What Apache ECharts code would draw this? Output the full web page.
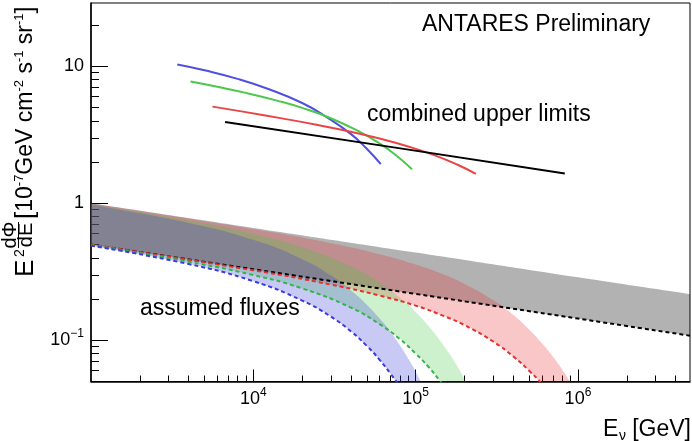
<!DOCTYPE html>
<html>
<head>
<meta charset="utf-8">
<script src="https://cdn.jsdelivr.net/npm/echarts@6/dist/echarts.min.js"></script>
<style>
  html, body { margin: 0; padding: 0; background: #fff; }
  #chart { width: 692px; height: 441px; }
</style>
</head>
<body>
<div id="chart"></div>
<script>
// E in GeV, E^2 dPhi/dE in 1e-7 GeV cm^-2 s^-1 sr^-1

// combined upper limits
const ulBlueE = [3400, 5000, 8000, 12500, 20000, 28000, 40000, 50000, 61000];
const ulBlueF = [10.3, 9.35, 8.1, 6.8, 5.4, 4.3, 3.2, 2.5, 1.93];
const ulGreenE = [4100, 6000, 9000, 14000, 20000, 30000, 45000, 60000, 75000, 95000];
const ulGreenF = [7.74, 7.09, 6.40, 5.62, 4.97, 4.18, 3.34, 2.73, 2.26, 1.77];
const ulRedE = [5600, 9000, 15000, 25000, 40000, 60000, 90000, 130000, 180000, 235000];
const ulRedF = [5.08, 4.63, 4.17, 3.73, 3.33, 2.97, 2.60, 2.25, 1.92, 1.64];
const ulBlackE = [6700, 75000, 830000];
const ulBlackF = [3.93, 2.55, 1.65];

// assumed flux bands (upper edge / lower dashed edge)
const grayE = [1000, 10000, 100000, 1000000, 4900000];
const grayHi = [1.0, 0.661, 0.437, 0.288, 0.217];
const grayLo = [0.5, 0.330, 0.218, 0.144, 0.108];

const redE = [1000, 10000, 30000, 60000, 100000, 150000, 200000, 300000, 400000, 500000, 600000, 700000, 800000, 900000, 1000000, 1200000];
const redHi = [1.0, 0.648, 0.511, 0.425, 0.357, 0.301, 0.258, 0.197, 0.153, 0.120, 0.095, 0.076, 0.061, 0.049, 0.039, 0.025];
const redLo = [0.5, 0.324, 0.255, 0.212, 0.179, 0.150, 0.129, 0.098, 0.076, 0.060, 0.048, 0.038, 0.030, 0.024, 0.020, 0.013];

const greenE = [1000, 4000, 10000, 20000, 40000, 60000, 80000, 100000, 120000, 140000, 160000, 180000, 200000, 250000];
const greenHi = [0.99, 0.749, 0.598, 0.478, 0.345, 0.263, 0.204, 0.161, 0.127, 0.101, 0.081, 0.065, 0.052, 0.030];
const greenLo = [0.495, 0.374, 0.299, 0.239, 0.173, 0.131, 0.102, 0.080, 0.064, 0.051, 0.041, 0.032, 0.026, 0.015];

const blueE = [1000, 4000, 10000, 20000, 30000, 40000, 50000, 60000, 70000, 80000, 90000, 100000, 120000, 140000];
const blueHi = [0.98, 0.719, 0.541, 0.391, 0.298, 0.231, 0.182, 0.144, 0.115, 0.092, 0.0735, 0.059, 0.038, 0.025];
const blueLo = [0.49, 0.360, 0.270, 0.195, 0.149, 0.116, 0.091, 0.072, 0.057, 0.046, 0.037, 0.030, 0.019, 0.0125];

// axis ranges and decades with labels
const X_MIN = 1000, X_MAX = 4.9e6;
const Y_MIN = 0.05, Y_MAX = 29;
const X_DECADES = [4, 5, 6];
const Y_DECADES = [-1, 0, 1];

const FONT = '"Liberation Sans", Arial, Helvetica, sans-serif';
const lg = Math.log10;

function toXY(es, fs) {
    return es.map((e, i) => [lg(e), lg(fs[i])]);
}
function minorTicks(lo, hi) {
    const out = [];
    for (let n = Math.floor(lo) - 1; n <= Math.ceil(hi); n++) {
        for (let k = 2; k <= 9; k++) {
            const v = n + lg(k);
            if (v > lo && v < hi) out.push(v);
        }
    }
    return out;
}
function decadeLabel(v) {
    const n = Math.round(v);
    if (n === 0) return '1';
    if (n === 1) return '10';
    return '10{sup|' + (n < 0 ? '\u2212' + (-n) : n) + '}';
}

// filled band between upper and lower edge, clipped to the grid
function bandFill(name, es, hi, lo, fill) {
    const top = toXY(es, hi);
    const bottom = toXY(es, lo).reverse();
    // ends doubled so the smoothing keeps one-sided tangents at each end
    const ring = [top[0]].concat(top, [top[top.length - 1], bottom[0]], bottom, [bottom[bottom.length - 1]]);
    return {
        type: 'custom', name: name + ' band', coordinateSystem: 'cartesian2d',
        xAxisIndex: 0, yAxisIndex: 0, z: 2, silent: true,
        data: [top[0]],
        renderItem: function (params, api) {
            const cs = params.coordSys;
            return {
                type: 'polygon',
                shape: { points: ring.map(p => api.coord(p)), smooth: 0.5 },
                style: { fill: fill },
                clipPath: { type: 'rect', shape: { x: cs.x, y: cs.y, width: cs.width, height: cs.height } }
            };
        }
    };
}
function edge(name, es, fs, color) {
    return {
        type: 'line', name: name + ' low', data: toXY(es, fs), smooth: true,
        symbol: 'none', z: 3, silent: true,
        lineStyle: { color: color, width: 2, type: [4, 3] }
    };
}
function limit(name, es, fs, color) {
    return {
        type: 'line', name: name, data: toXY(es, fs), smooth: true,
        symbol: 'none', z: 4, silent: true,
        lineStyle: { color: color, width: 2 }
    };
}

const xMin = lg(X_MIN), xMax = lg(X_MAX), yMin = lg(Y_MIN), yMax = lg(Y_MAX);
const labelRich = {
    sup: { fontSize: 12, lineHeight: 12, verticalAlign: 'top', color: '#000', fontFamily: FONT }
};

function xAxis(major) {
    return {
        type: 'value', min: xMin, max: xMax, position: 'bottom', offset: 0,
        axisLine: { show: major, onZero: false, lineStyle: { color: '#000', width: 1.5 } },
        axisTick: { show: true, inside: true, length: major ? 12 : 6,
            customValues: major ? X_DECADES : minorTicks(xMin, xMax),
            lineStyle: { color: '#000', width: 1 } },
        axisLabel: major ? { customValues: X_DECADES, formatter: decadeLabel, margin: 5,
            fontSize: 18, lineHeight: 26, color: '#000', fontFamily: FONT, rich: labelRich } : { show: false },
        splitLine: { show: false }
    };
}
function yAxis(major) {
    return {
        type: 'value', min: yMin, max: yMax, position: 'left', offset: 0,
        axisLine: { show: major, onZero: false, lineStyle: { color: '#000', width: 1.5 } },
        axisTick: { show: true, inside: true, length: major ? 17 : 8,
            customValues: major ? Y_DECADES : minorTicks(yMin, yMax),
            lineStyle: { color: '#000', width: 1 } },
        axisLabel: major ? { customValues: Y_DECADES, formatter: decadeLabel, margin: 7,
            fontSize: 18, lineHeight: 26, color: '#000', fontFamily: FONT, rich: labelRich } : { show: false },
        splitLine: { show: false }
    };
}

function txt(x, y, text, size, align, extra) {
    return {
        type: 'text', x: x, y: y, silent: true,
        style: Object.assign({
            text: text, font: size + 'px ' + FONT, fill: '#000',
            align: align || 'left', verticalAlign: 'middle',
            textAlign: align || 'left', textVerticalAlign: 'middle'
        }, extra || {})
    };
}

const chart = echarts.init(document.getElementById('chart'), null, { renderer: 'canvas' });
chart.setOption({
    animation: false,
    textStyle: { fontFamily: FONT },
    grid: { left: 91, right: 2, top: 3, bottom: 59.5, show: true,
        borderColor: '#000', borderWidth: 1, outerBoundsMode: 'none' },
    xAxis: [xAxis(true), xAxis(false)],
    yAxis: [yAxis(true), yAxis(false)],
    series: [
        bandFill('gray', grayE, grayHi, grayLo, 'rgba(0,0,0,0.3)'),
        bandFill('red', redE, redHi, redLo, 'rgba(230,30,30,0.25)'),
        bandFill('green', greenE, greenHi, greenLo, 'rgba(50,200,50,0.25)'),
        bandFill('blue', blueE, blueHi, blueLo, 'rgba(60,60,220,0.28)'),
        edge('gray', grayE, grayLo, '#000'),
        edge('red', redE, redLo, '#e53030'),
        edge('green', greenE, greenLo, '#33b54a'),
        edge('blue', blueE, blueLo, '#3b3bdc'),
        limit('blue limit', ulBlueE, ulBlueF, '#5050e0'),
        limit('green limit', ulGreenE, ulGreenF, '#4cc84c'),
        limit('red limit', ulRedE, ulRedF, '#e84646'),
        limit('black limit', ulBlackE, ulBlackF, '#000')
    ],
    graphic: [
        txt(422, 25, 'ANTARES Preliminary', 23),
        txt(367, 115, 'combined upper limits', 23),
        txt(140, 309, 'assumed fluxes', 23),
        // x axis title
        txt(603, 430, 'E', 23),
        txt(619, 436, '\u03bd', 14),
        txt(691, 430, '[GeV]', 23, 'right'),
        // y axis title, rotated to read bottom to top
        {
            type: 'group', x: 34, y: 277, rotation: Math.PI / 2, silent: true,
            children: [
                txt(0, -8.5, 'E', 26),
                txt(20, -14, '2', 14),
                txt(42, -23.5, 'd\u03a6', 20, 'center'),
                { type: 'line', shape: { x1: 29, y1: -15.5, x2: 55, y2: -15.5 },
                  style: { stroke: '#000', lineWidth: 1 } },
                txt(42, -7.5, 'dE', 20, 'center'),
                txt(58, -8, '{br|[}10{sup|-7}GeV cm{sup|-2} s{sup|-1} sr{sup|-1}{br|]}', 23, 'left', {
                    rich: {
                        br: { font: '26px ' + FONT, lineHeight: 26 },
                        sup: { font: '13px ' + FONT, lineHeight: 13, verticalAlign: 'top' }
                    }
                })
            ]
        }
    ]
});
</script>
</body>
</html>
